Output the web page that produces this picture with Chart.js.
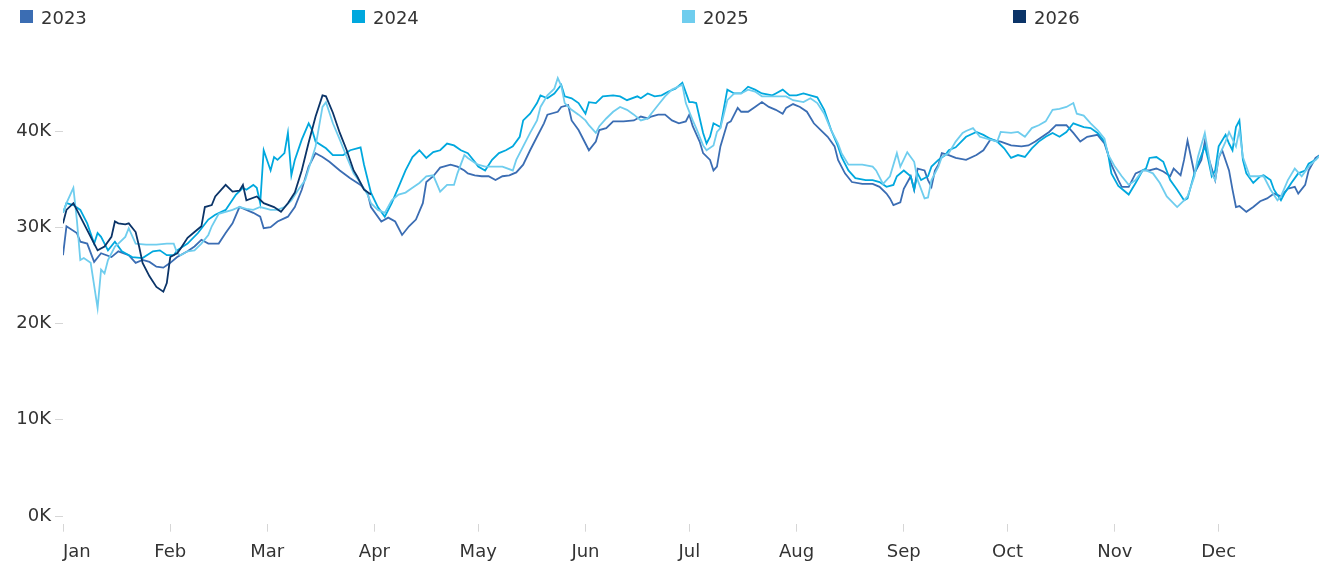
<!DOCTYPE html>
<html>
<head>
<meta charset="utf-8">
<script src="https://cdn.jsdelivr.net/npm/chart.js@4.4.1/dist/chart.umd.min.js"></script>
<style>
  html, body { margin: 0; padding: 0; background: #fff; }
  #wrap { position: relative; width: 1319px; height: 563px; }
  #chart { position: absolute; left: 0; top: 0; }
  #legend { position: absolute; left: 0; top: 0; width: 1319px; height: 36px;
            font-family: "DejaVu Sans", sans-serif; font-size: 18px; color: #333; }
  .item { position: absolute; top: 9px; line-height: 18px; white-space: nowrap; }
  .sw { position: absolute; left: 0; top: 1px; width: 13px; height: 13px; }
  .lb { position: absolute; left: 21px; top: 0; }
</style>
</head>
<body>
<div id="wrap">
  <canvas id="chart" width="1319" height="563"></canvas>
  <div id="legend"></div>
</div>
<script>
// day of year (0 = Jan 1), value in thousands
const years = ["2023", "2024", "2025", "2026"];
const colors = ["#3b6db3", "#00a8de", "#6fcdee", "#0b3468"];

const monthStarts = [0, 31, 59, 90, 120, 151, 181, 212, 243, 273, 304, 334];
const monthLabels = ["Jan", "Feb", "Mar", "Apr", "May", "Jun", "Jul", "Aug", "Sep", "Oct", "Nov", "Dec"];
const yTicks = [0, 10, 20, 30, 40];

const s2023 = [[0,27.1],[1,30.1],[4,29.4],[5,28.5],[7,28.3],[9,26.4],[11,27.3],[14,26.9],[16,27.5],[19,27.1],[21,26.3],[23,26.6],[25,26.4],[27,25.9],[29,25.8],[31,26.3],[33,26.9],[36,27.5],[38,28.0],[40,28.7],[42,28.3],[45,28.3],[47,29.4],[49,30.4],[51,32.1],[53,31.8],[55,31.5],[57,31.1],[58,29.9],[60,30.0],[62,30.6],[65,31.1],[67,32.1],[69,33.9],[71,36.3],[73,37.7],[75,37.3],[77,36.8],[80,35.9],[83,35.1],[86,34.4],[88,33.6],[89,32.1],[92,30.6],[94,31.0],[96,30.6],[98,29.2],[100,30.1],[102,30.8],[104,32.5],[105,34.7],[107,35.3],[109,36.2],[112,36.5],[114,36.3],[116,35.9],[117,35.6],[119,35.4],[121,35.3],[123,35.3],[125,34.9],[127,35.3],[129,35.4],[131,35.7],[133,36.5],[135,38.0],[137,39.4],[139,40.8],[140,41.7],[143,42.0],[144,42.5],[146,42.7],[147,41.1],[149,40.1],[150,39.4],[152,38.0],[154,38.9],[155,40.1],[157,40.3],[159,41.0],[162,41.0],[165,41.1],[167,41.5],[169,41.3],[170,41.5],[172,41.7],[174,41.7],[176,41.1],[178,40.8],[180,41.0],[181,41.7],[182,40.5],[184,38.9],[185,37.7],[187,37.0],[188,35.9],[189,36.3],[190,38.4],[192,40.8],[193,41.0],[195,42.4],[196,42.0],[198,42.0],[200,42.5],[202,43.0],[204,42.5],[206,42.2],[208,41.8],[209,42.4],[211,42.8],[213,42.5],[215,42.0],[217,40.8],[219,40.1],[221,39.4],[223,38.4],[224,37.0],[226,35.6],[228,34.7],[231,34.5],[234,34.5],[236,34.2],[238,33.5],[239,33.0],[240,32.3],[242,32.6],[243,34.0],[245,35.3],[246,33.9],[247,36.1],[249,35.9],[250,34.9],[251,34.2],[252,35.9],[253,36.5],[254,37.7],[256,37.5],[258,37.2],[261,37.0],[264,37.5],[266,38.0],[268,39.1],[271,38.9],[274,38.5],[277,38.4],[279,38.5],[281,38.9],[283,39.4],[285,39.9],[287,40.6],[290,40.6],[292,39.8],[294,38.9],[296,39.4],[299,39.6],[301,38.7],[303,36.5],[305,34.9],[306,34.2],[308,34.2],[310,35.6],[312,35.9],[314,35.9],[316,36.1],[318,35.8],[320,35.3],[321,36.1],[323,35.4],[324,37.0],[325,39.0],[326,37.3],[327,35.6],[329,37.0],[330,38.9],[331,37.3],[333,34.9],[334,37.2],[335,38.0],[337,35.9],[338,33.9],[339,32.1],[340,32.2],[342,31.6],[344,32.1],[346,32.7],[348,33.0],[350,33.5],[352,33.2],[354,34.0],[356,34.2],[357,33.5],[359,34.4],[360,35.9],[362,37.2],[364,37.7]];

const s2024 = [[0,31.5],[1,32.5],[3,32.3],[5,31.8],[7,30.4],[9,28.3],[10,29.4],[11,29.0],[13,27.6],[15,28.5],[17,27.5],[20,26.9],[23,26.8],[26,27.5],[28,27.6],[30,27.1],[32,27.1],[33,27.6],[36,28.3],[39,29.4],[42,30.8],[44,31.3],[47,31.8],[50,33.4],[52,34.1],[53,33.9],[55,34.4],[56,34.1],[57,32.5],[58,38.0],[60,35.9],[61,37.3],[62,37.0],[64,37.7],[65,39.8],[66,35.4],[67,37.0],[69,39.1],[71,40.8],[72,40.1],[73,38.9],[76,38.2],[78,37.5],[81,37.5],[83,38.0],[85,38.2],[86,38.3],[87,36.5],[89,33.6],[91,32.1],[93,31.1],[95,32.5],[97,34.2],[99,35.9],[101,37.3],[103,38.0],[105,37.2],[107,37.8],[109,38.0],[111,38.7],[113,38.5],[115,38.0],[117,37.7],[119,36.8],[120,36.3],[122,35.9],[124,37.0],[126,37.7],[128,38.0],[130,38.4],[132,39.4],[133,41.1],[135,41.8],[137,42.9],[138,43.7],[140,43.4],[142,43.9],[144,44.8],[145,43.6],[147,43.4],[149,42.9],[151,41.8],[152,43.0],[154,42.9],[156,43.6],[159,43.7],[161,43.6],[163,43.2],[166,43.6],[167,43.4],[169,43.9],[171,43.6],[173,43.7],[175,44.1],[177,44.4],[179,45.0],[181,43.0],[182,43.0],[183,42.9],[185,39.8],[186,38.7],[187,39.4],[188,40.8],[190,40.4],[192,44.3],[194,43.9],[196,43.9],[198,44.6],[200,44.3],[202,43.9],[205,43.7],[206,43.9],[208,44.3],[210,43.7],[212,43.7],[214,43.9],[216,43.7],[218,43.5],[220,42.2],[222,40.1],[224,38.4],[225,37.3],[227,35.9],[229,35.1],[232,34.9],[234,34.9],[236,34.7],[238,34.2],[240,34.4],[241,35.3],[243,35.9],[245,35.3],[246,33.9],[247,35.6],[248,34.9],[250,35.3],[251,36.3],[253,37.0],[255,37.5],[256,38.0],[258,38.3],[261,39.4],[264,39.9],[266,39.6],[268,39.2],[270,38.9],[272,38.2],[274,37.2],[276,37.5],[278,37.3],[280,38.2],[282,38.9],[284,39.4],[286,39.8],[288,39.4],[290,39.9],[292,40.8],[295,40.4],[297,40.3],[299,39.8],[301,38.9],[302,37.7],[303,35.6],[305,34.3],[306,34.0],[308,33.4],[310,34.6],[312,35.9],[313,36.1],[314,37.2],[316,37.3],[318,36.8],[320,34.9],[322,33.9],[324,32.8],[325,33.0],[327,35.6],[328,36.5],[330,38.4],[331,37.0],[332,35.3],[333,35.9],[334,38.4],[336,39.6],[337,38.7],[338,38.0],[339,40.4],[340,41.1],[341,37.0],[342,35.6],[344,34.6],[346,35.3],[347,35.4],[349,34.9],[350,33.9],[352,32.8],[353,33.5],[355,34.6],[357,35.6],[359,35.9],[360,36.6],[362,37.0],[364,37.8]];

const s2025 = [[0,31.5],[1,32.5],[3,34.1],[4,30.8],[5,26.6],[6,26.8],[8,26.3],[10,21.6],[11,25.6],[12,25.2],[13,26.6],[15,28.0],[16,28.3],[18,29.0],[19,29.9],[21,28.3],[24,28.2],[27,28.2],[30,28.3],[32,28.3],[33,27.3],[34,27.1],[36,27.5],[38,27.6],[40,28.3],[42,29.2],[43,30.1],[45,31.4],[47,31.6],[49,31.8],[51,32.1],[53,31.9],[55,31.8],[57,32.1],[59,31.9],[60,31.8],[62,31.8],[64,32.1],[66,32.8],[68,33.9],[70,34.9],[73,38.4],[75,42.5],[76,43.0],[78,40.8],[80,39.1],[82,37.3],[84,35.6],[86,34.6],[88,33.4],[89,32.5],[91,31.8],[93,31.5],[95,32.8],[97,33.4],[99,33.6],[101,34.1],[103,34.6],[105,35.3],[107,35.4],[109,33.7],[111,34.4],[113,34.4],[114,35.6],[116,37.5],[117,37.2],[119,36.7],[120,36.5],[122,36.3],[125,36.3],[127,36.3],[130,35.9],[131,37.0],[133,38.4],[135,39.8],[137,41.1],[138,42.5],[140,43.7],[142,44.4],[143,45.5],[144,44.7],[145,42.9],[147,42.2],[149,41.7],[151,41.1],[152,40.6],[154,39.8],[155,40.5],[157,41.3],[159,42.0],[161,42.5],[163,42.2],[165,41.7],[167,41.1],[169,41.3],[170,41.8],[172,42.7],[174,43.6],[176,44.3],[179,44.8],[180,42.9],[182,41.1],[183,40.3],[185,38.5],[186,38.0],[188,38.5],[189,39.9],[190,40.3],[192,43.2],[194,43.9],[196,43.9],[198,44.3],[200,44.1],[202,43.6],[204,43.6],[207,43.6],[209,43.6],[211,43.2],[214,43.0],[216,43.4],[218,42.9],[220,41.8],[222,40.1],[224,38.7],[225,37.7],[227,36.5],[229,36.5],[231,36.5],[234,36.3],[235,35.9],[237,34.5],[239,35.3],[241,37.7],[242,36.3],[244,37.8],[246,36.8],[247,34.9],[249,33.0],[250,33.1],[251,34.9],[253,36.3],[254,37.3],[256,37.7],[258,38.9],[260,39.8],[261,40.0],[263,40.3],[265,39.4],[268,39.1],[270,38.9],[271,39.9],[274,39.8],[276,39.9],[278,39.4],[280,40.3],[282,40.6],[284,41.0],[286,42.2],[288,42.3],[290,42.5],[292,42.9],[293,41.8],[295,41.6],[297,40.8],[299,40.1],[301,39.2],[302,37.6],[304,36.3],[306,35.3],[308,34.4],[310,34.9],[312,35.9],[313,35.9],[315,35.6],[317,34.6],[319,33.2],[322,32.1],[324,32.8],[325,33.2],[327,35.3],[328,37.3],[330,39.8],[331,37.7],[332,35.6],[333,34.9],[334,37.3],[336,38.9],[337,39.9],[339,38.4],[340,40.1],[341,37.3],[343,35.3],[345,35.3],[347,35.3],[349,33.9],[351,32.8],[352,33.2],[354,34.9],[356,36.1],[358,35.3],[360,36.3],[362,37.0],[364,37.7]];

const s2026 = [[0,30.4],[1,31.8],[3,32.5],[4,31.8],[6,30.4],[8,29.0],[10,27.6],[12,28.0],[14,29.0],[15,30.6],[16,30.4],[18,30.3],[19,30.4],[21,29.5],[22,28.0],[23,26.3],[25,24.9],[27,23.8],[29,23.3],[30,24.2],[31,26.9],[33,27.3],[34,27.8],[36,28.9],[38,29.5],[40,30.1],[41,32.1],[43,32.3],[44,33.2],[47,34.4],[49,33.7],[51,33.8],[52,34.4],[53,32.8],[56,33.2],[58,32.5],[61,32.1],[63,31.6],[65,32.5],[67,33.6],[69,35.9],[71,38.8],[73,41.5],[75,43.7],[76,43.6],[78,41.9],[80,39.8],[82,38.0],[84,35.9],[85,35.3],[87,33.9],[89,33.4]];

const series = [s2023, s2024, s2025, s2026];

const legend = document.getElementById("legend");
const legendX = [20, 352, 682, 1013];
years.forEach((y, i) => {
  const it = document.createElement("div");
  it.className = "item";
  it.style.left = legendX[i] + "px";
  it.innerHTML = `<span class="sw" style="background:${colors[i]}"></span><span class="lb">${y}</span>`;
  legend.appendChild(it);
});

const font = { family: "DejaVu Sans", size: 18 };
const xMax = 363;

new Chart(document.getElementById("chart"), {
  type: "line",
  data: {
    datasets: years.map((y, i) => ({
      label: y,
      data: series[i],
      borderColor: colors[i],
      backgroundColor: colors[i],
      borderWidth: 1.8,
      pointRadius: 0,
      tension: 0,
      fill: false,
      order: 4 - i,
    })),
  },
  options: {
    responsive: false,
    animation: false,
    devicePixelRatio: 1,
    layout: { autoPadding: false, padding: { top: 54, left: 0, right: 0, bottom: 0 } },
    plugins: { legend: { display: false }, tooltip: { enabled: false } },
    scales: {
      x: {
        type: "linear",
        min: 0,
        max: xMax,
        afterBuildTicks: (s) => {
          s.ticks = monthStarts.map((v) => ({ value: v })).concat([{ value: xMax }]);
        },
        afterFit: (s) => { s.height = 39.3; s.paddingLeft = 0; s.paddingRight = 0; },
        border: { display: false },
        grid: {
          drawOnChartArea: false,
          tickLength: 8,
          tickColor: (c) => (c.tick && c.tick.value === xMax ? "rgba(0,0,0,0)" : "#d6d6d6"),
        },
        ticks: {
          autoSkip: false,
          maxRotation: 0,
          align: "inner",
          padding: 10,
          color: "#333",
          font,
          callback: (v) => {
            const i = monthStarts.indexOf(v);
            return i >= 0 ? monthLabels[i] : "";
          },
        },
      },
      y: {
        min: -0.8,
        max: 48,
        afterBuildTicks: (s) => { s.ticks = yTicks.map((v) => ({ value: v })); },
        afterFit: (s) => { s.width = 63; s.paddingTop = 0; s.paddingBottom = 0; },
        border: { display: false },
        grid: { drawOnChartArea: false, tickLength: 8, tickColor: "#d6d6d6" },
        ticks: { padding: 4, color: "#333", font, callback: (v) => v + "K" },
      },
    },
  },
});
</script>
</body>
</html>
